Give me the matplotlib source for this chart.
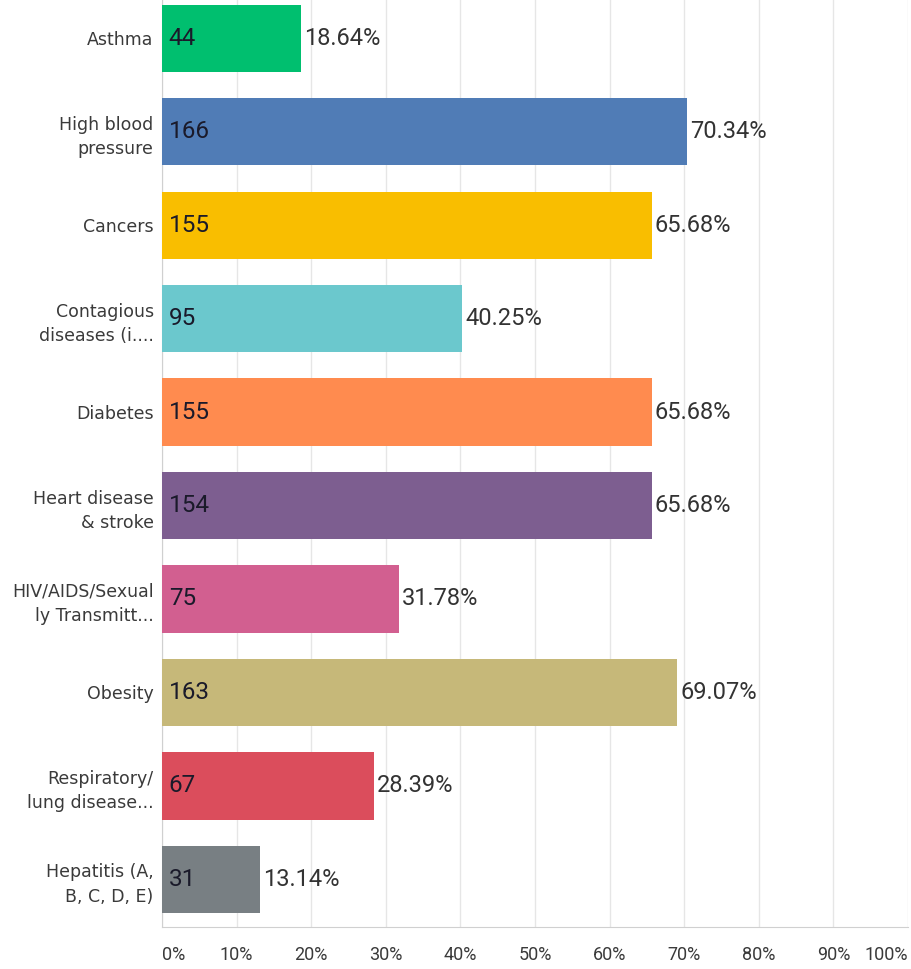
import matplotlib.pyplot as plt

# Dados
categorias = ['Asthma', 'High blood\npressure', 'Cancers', 'Contagious\ndiseases (i....',
              'Diabetes', 'Heart disease\n& stroke', 'HIV/AIDS/Sexual\nly Transmitt...',
              'Obesity', 'Respiratory/\nlung disease...', 'Hepatitis (A,\nB, C, D, E)']
contagens = [44, 166, 155, 95, 155, 154, 75, 163, 67, 31]
percentuais = [18.64, 70.34, 65.68, 40.25, 65.68, 65.68, 31.78, 69.07, 28.39, 13.14]
rotulos_pct = ['18.64%', '70.34%', '65.68%', '40.25%', '65.68%', '65.68%', '31.78%',
               '69.07%', '28.39%', '13.14%']
cores = ['#00BF6F', '#507CB6', '#F9BE00', '#6BC8CD', '#FF8B4F', '#7D5E90',
         '#D25F90', '#C6B879', '#DB4D5C', '#787F83']
ticks = [0, 10, 20, 30, 40, 50, 60, 70, 80, 90, 100]

fonte_num = 'Roboto'

fig = plt.figure(figsize=(9.11, 9.69), dpi=100)
fig.patch.set_facecolor('white')
ax = fig.add_axes([162/911, 1 - 927/969, (908 - 162)/911, 927/969])

y = list(range(len(categorias)))
ax.barh(y, percentuais, height=0.72, color=cores, zorder=3)

for i in y:
    ax.text(0.9, i, str(contagens[i]), va='center', ha='left', fontsize=17.5,
            family=fonte_num, color='#1a1a2a', zorder=4)
    ax.text(percentuais[i] + 0.4, i, rotulos_pct[i], va='center', ha='left',
            fontsize=17, family=fonte_num, color='#333333', zorder=4)

ax.set_xlim(0, 100)
ax.set_ylim(9.51, -0.41)
ax.set_yticks(y)
ax.set_yticklabels(categorias, fontsize=12.5, color='#3a3a3a', family='DejaVu Sans',
                   linespacing=1.45)
ax.set_xticks(ticks)
ax.set_xticklabels([f'{t}%' for t in ticks], fontsize=13, color='#3a3a3a',
                   family=fonte_num)
xt = ax.get_xticklabels()
xt[0].set_ha('left')
xt[-1].set_ha('right')
ax.tick_params(axis='both', length=0)
ax.tick_params(axis='x', pad=14)
ax.tick_params(axis='y', pad=6)
ax.grid(True, axis='x', color='#e6e6e6', linewidth=1, zorder=0)
for s in ['top', 'right']:
    ax.spines[s].set_visible(False)
ax.spines['left'].set_color('#d0d0d0')
ax.spines['bottom'].set_color('#d0d0d0')

plt.savefig('out.png', dpi=100, facecolor='white')
